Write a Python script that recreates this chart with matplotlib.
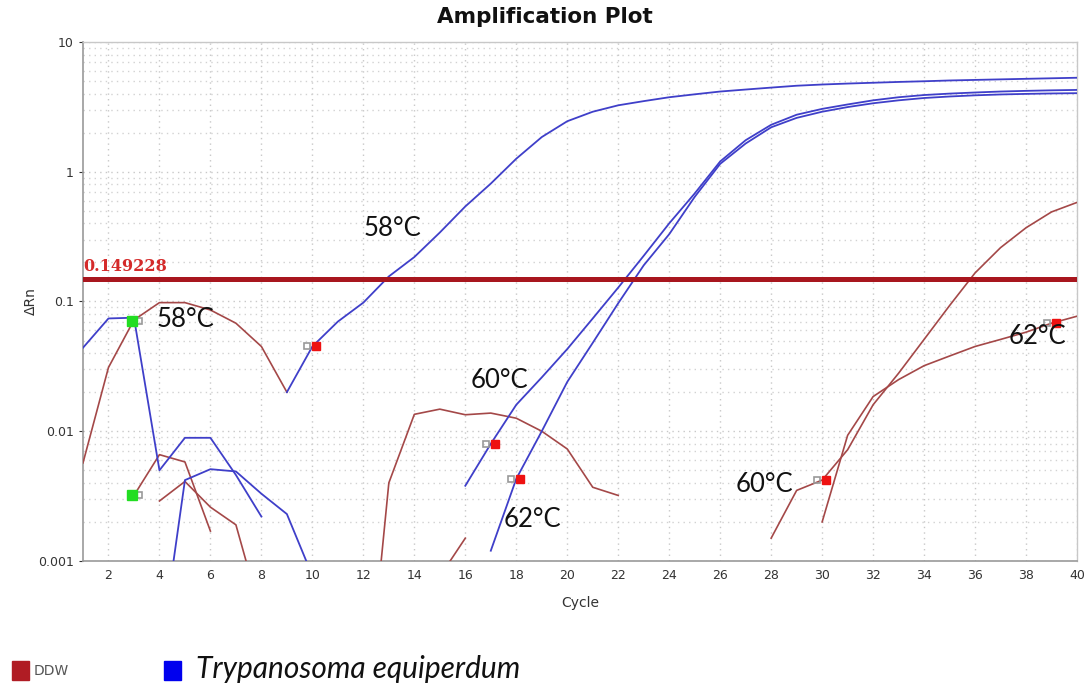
import matplotlib
matplotlib.use("Agg")
import matplotlib.pyplot as plt
from matplotlib.patches import Rectangle
from matplotlib.transforms import offset_copy
from matplotlib.ticker import LogLocator, NullFormatter

# amplification traces, one segment per visible stretch (values below 0.001 get clipped)
ddw_segments = [
    ([1, 2, 3, 4, 5, 6, 7, 8, 9],
     [0.0057, 0.031, 0.072, 0.098, 0.098, 0.086, 0.068, 0.045, 0.020]),
    ([3, 4, 5, 6],
     [0.0032, 0.0066, 0.0058, 0.0017]),
    ([4, 5, 6, 7, 8],
     [0.0029, 0.0041, 0.0026, 0.0019, 0.00038]),
    ([12, 13, 14, 15, 16, 17, 18, 19, 20, 21, 22],
     [0.00004, 0.004, 0.0135, 0.0148, 0.0134, 0.0138, 0.0126, 0.0100, 0.0073, 0.0037, 0.0032]),
    ([15, 16],
     [0.00076, 0.0015]),
    ([28, 29, 30, 31, 32, 33, 34, 35, 36, 37, 38, 39, 40],
     [0.0015, 0.0035, 0.0042, 0.0072, 0.016, 0.028, 0.051, 0.093, 0.166, 0.26, 0.37, 0.49, 0.58]),
    ([30, 31, 32, 33, 34, 35, 36, 37, 38, 39, 40],
     [0.0020, 0.0093, 0.0185, 0.025, 0.032, 0.038, 0.045, 0.051, 0.058, 0.068, 0.077]),
]

tryp_segments = [
    ([1, 2, 3, 4, 5, 6, 7, 8],
     [0.044, 0.074, 0.075, 0.005, 0.0089, 0.0089, 0.0046, 0.0022]),
    ([4, 5, 6, 7, 8, 9, 10],
     [0.00017, 0.0042, 0.0051, 0.0049, 0.0033, 0.0023, 0.00077]),
    (list(range(9, 41)),
     [0.020, 0.045, 0.070, 0.098, 0.156, 0.22, 0.34, 0.54, 0.81, 1.26, 1.85, 2.45,
      2.9, 3.25, 3.5, 3.75, 3.95, 4.15, 4.3, 4.45, 4.6, 4.7, 4.78, 4.85, 4.92,
      4.98, 5.05, 5.1, 5.15, 5.2, 5.25, 5.3]),
    (list(range(16, 41)),
     [0.0038, 0.008, 0.016, 0.026, 0.043, 0.074, 0.128, 0.225, 0.40, 0.68, 1.2,
      1.75, 2.3, 2.75, 3.05, 3.3, 3.55, 3.75, 3.9, 4.0, 4.08, 4.15, 4.2, 4.24, 4.27]),
    (list(range(17, 41)),
     [0.0012, 0.0043, 0.010, 0.024, 0.048, 0.097, 0.19, 0.33, 0.64, 1.15, 1.65,
      2.2, 2.6, 2.9, 3.15, 3.37, 3.55, 3.7, 3.8, 3.88, 3.94, 3.98, 4.01, 4.03]),
]

threshold = 0.149228

green_cycles = [3, 3]
green_vals = [0.071, 0.0032]
red_cycles = [10, 17, 18, 30, 39]
red_vals = [0.045, 0.008, 0.0043, 0.0042, 0.068]

temp_labels = ["58°C", "58°C", "60°C", "62°C", "60°C", "62°C"]
temp_cycles = [12.0, 3.9, 16.2, 17.5, 26.6, 37.3]
temp_vals = [0.368, 0.072, 0.0248, 0.0021, 0.0039, 0.054]

ddw_color = "#a44848"
tryp_color = "#3f3fc9"

fig = plt.figure(figsize=(10.89, 6.88), dpi=100)
ax = fig.add_axes([0.0762, 0.1846, 0.9128, 0.7544])

for xs, ys in ddw_segments:
    ax.plot(xs, ys, color=ddw_color, lw=1.2, zorder=3)
for xs, ys in tryp_segments:
    ax.plot(xs, ys, color=tryp_color, lw=1.3, zorder=4)

ax.axhline(threshold, color="#a8161e", lw=3.6, zorder=5)
ax.text(1.02, threshold * 1.08, f"{threshold:.6f}", color="#d42a2a",
        fontsize=11.5, fontweight="bold", family="DejaVu Serif", va="bottom", zorder=6)

# baseline markers: filled square with a hollow grey companion
gray_right = offset_copy(ax.transData, fig=fig, x=5, y=0, units="dots")
gray_left = offset_copy(ax.transData, fig=fig, x=-5, y=0, units="dots")
green_shift = offset_copy(ax.transData, fig=fig, x=-2, y=0, units="dots")
red_shift = offset_copy(ax.transData, fig=fig, x=4, y=0, units="dots")
ax.plot(green_cycles, green_vals, "s", ms=5, mfc="none", mec="#999999",
        mew=1.2, transform=gray_right, zorder=6)
ax.plot(green_cycles, green_vals, "s", ms=6.5, color="#22dd22", mec="#22dd22",
        transform=green_shift, zorder=7)
ax.plot(red_cycles, red_vals, "s", ms=5, mfc="none", mec="#999999",
        mew=1.2, transform=gray_left, zorder=6)
ax.plot(red_cycles, red_vals, "s", ms=5.5, color="#ee1111", mec="#ee1111",
        transform=red_shift, zorder=7)

for lab, cx, cy in zip(temp_labels, temp_cycles, temp_vals):
    ax.text(cx, cy, lab, fontsize=18.5, family="Lato", color="#111111",
            ha="left", va="center", zorder=8)

ax.set_yscale("log")
ax.set_xlim(1, 40)
ax.set_ylim(0.001, 10)
ax.set_xticks(range(2, 41, 2))
ax.set_yticks([0.001, 0.01, 0.1, 1, 10])
ax.set_yticklabels(["0.001", "0.01", "0.1", "1", "10"])
ax.yaxis.set_minor_locator(LogLocator(base=10, subs=range(2, 10)))
ax.yaxis.set_minor_formatter(NullFormatter())
ax.tick_params(axis="both", which="major", labelsize=9, colors="#333333",
               length=3, width=0.8)
ax.tick_params(axis="y", which="minor", length=0)
ax.tick_params(axis="x", which="major", length=0, pad=6)

ax.grid(which="major", axis="both", ls=(0, (1, 3)), color="#c8c8c8", lw=1.0)
ax.grid(which="minor", axis="y", ls=(0, (1, 3)), color="#d2d2d2", lw=1.0)
ax.set_axisbelow(True)

for side in ["top", "right"]:
    ax.spines[side].set_color("#c8c8c8")
    ax.spines[side].set_linewidth(1.0)
for side in ["left", "bottom"]:
    ax.spines[side].set_color("#9a9a9a")
    ax.spines[side].set_linewidth(1.2)

ax.set_xlabel("Cycle", fontsize=10, color="#333333", labelpad=10)
ax.set_ylabel("ΔRn", fontsize=10, color="#333333", labelpad=0)
fig.text(0.5, 0.975, "Amplification Plot", ha="center", va="center",
         fontsize=15.5, fontweight="bold", color="#111111")

# legend under the plot
fig.add_artist(Rectangle((0.011, 0.012), 0.016, 0.027, transform=fig.transFigure,
                         color="#b01c24"))
fig.text(0.031, 0.025, "DDW", fontsize=10, color="#555555", va="center")
fig.add_artist(Rectangle((0.151, 0.012), 0.015, 0.027, transform=fig.transFigure,
                         color="#0000ee"))
fig.text(0.180, 0.027, "Trypanosoma equiperdum", fontsize=21.5, style="italic",
         family="Lato", color="#111111", va="center")

fig.savefig("out.png", dpi=100)
